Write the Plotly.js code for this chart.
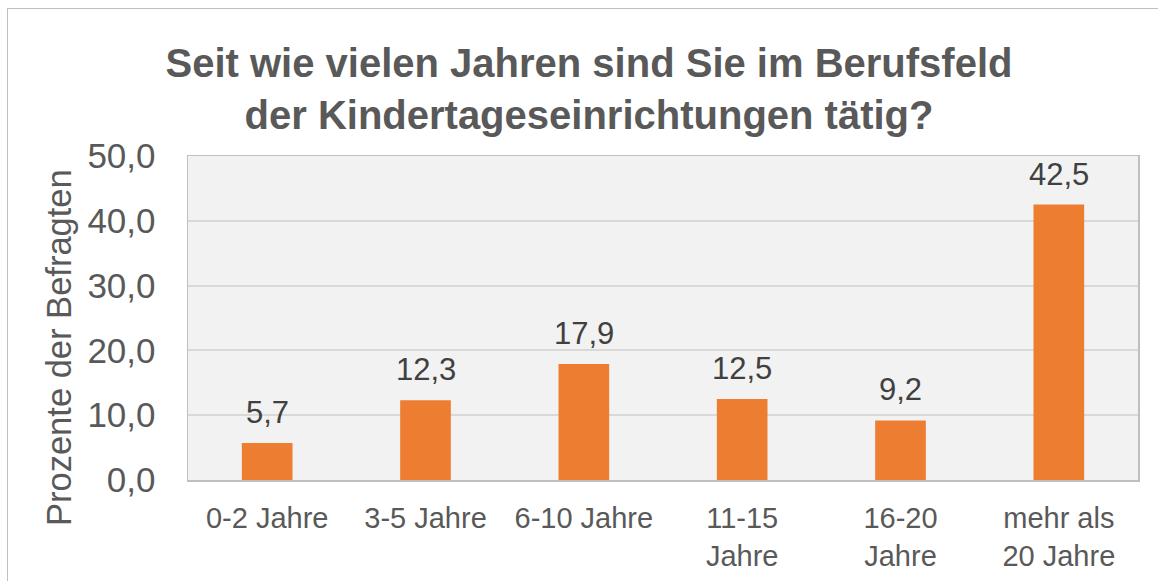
<!DOCTYPE html>
<html>
<head>
<meta charset="utf-8">
<script src="https://cdn.plot.ly/plotly-3.0.1.min.js"></script>
<style>
html,body{margin:0;padding:0;background:#fff;overflow:hidden;width:1158px;height:581px;}
#frame{position:absolute;left:7px;top:8px;width:1300px;height:700px;border:1.5px solid #bfbfbf;box-sizing:border-box;}
#chart{position:absolute;left:0;top:0;width:1158px;height:581px;}
</style>
</head>
<body>
<div id="frame"></div>
<div id="chart"></div>
<script>
const categories = ["0-2 Jahre", "3-5 Jahre", "6-10 Jahre", "11-15<br>Jahre", "16-20<br>Jahre", "mehr als<br>20 Jahre"];
const values = [5.7, 12.3, 17.9, 12.5, 9.2, 42.5];
const yTickValues = [0, 10, 20, 30, 40, 50];
const titleText = "Seit wie vielen Jahren sind Sie im Berufsfeld<br>der Kindertageseinrichtungen tätig?";
const yTitleText = "Prozente der Befragten";

const FONT = "Liberation Sans, Arial, sans-serif";
const W = 1158, H = 581, ML = 188, MR = 20, MT = 156, MB = 101;
const PW = W - ML - MR, PH = H - MT - MB;

const trace = {
  type: "bar",
  x: categories,
  y: values,
  width: 0.32,
  marker: {color: "#ed7d31"},
  hoverinfo: "none"
};

const annotations = categories.map((c, i) => ({
  x: c, y: values[i], xref: "x", yref: "y",
  text: values[i].toFixed(1).replace(".", ","),
  showarrow: false, yanchor: "bottom", yshift: 11,
  font: {family: FONT, size: 31, color: "#404040"}
}));

annotations.push({
  text: yTitleText, textangle: -90, showarrow: false,
  xref: "paper", yref: "paper",
  x: (59 - ML) / PW, y: (H - MB - 348) / PH,
  xanchor: "center", yanchor: "middle",
  font: {family: FONT, size: 34.5, color: "#595959"}
});

const layout = {
  width: W, height: H,
  margin: {l: ML, r: MR, t: MT, b: MB},
  paper_bgcolor: "rgba(0,0,0,0)",
  plot_bgcolor: "#f2f2f2",
  separators: ",.",
  showlegend: false,
  title: {
    text: titleText,
    font: {family: FONT, size: 40, color: "#595959", weight: "bold"},
    xref: "container", x: 589/W, xanchor: "center",
    yref: "container", y: 1 - 77/H, yanchor: "top"
  },
  xaxis: {
    type: "category",
    tickfont: {family: FONT, size: 29, color: "#595959"},
    showline: true, linecolor: "#bfbfbf", linewidth: 1.5, mirror: true,
    ticks: "", ticklabelstandoff: 12,
    showgrid: false, fixedrange: true
  },
  yaxis: {
    range: [0, 50],
    tickvals: yTickValues,
    tickformat: ".1f",
    tickfont: {family: FONT, size: 35, color: "#595959"},
    ticks: "", ticklabelstandoff: 24,
    showline: true, linecolor: "#bfbfbf", linewidth: 1.5, mirror: true,
    gridcolor: "#d9d9d9", gridwidth: 2,
    zeroline: false,
    fixedrange: true
  },
  annotations: annotations
};

Plotly.newPlot("chart", [trace], layout, {displayModeBar: false, staticPlot: true});
</script>
</body>
</html>
